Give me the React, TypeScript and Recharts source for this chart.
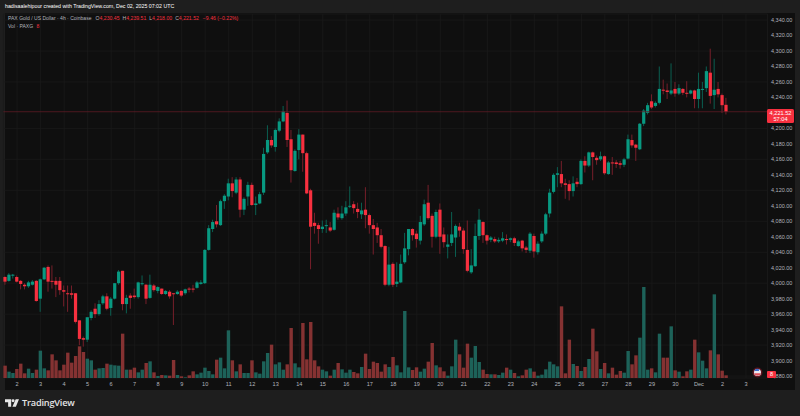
import React from 'react';
import { ComposedChart, Bar, XAxis, YAxis, CartesianGrid, ReferenceLine } from 'recharts';

const opens = [
  4008,4003,4010,4008,4003,3998,3996,3998,4003,3980,
  4005,4021,4003,4003,4003,3991,3987,3987,3987,3952,
  3929,3927,3955,3967,3960,3974,3983,3968,3980,4000,
  4016,3973,3984,3984,3982,3999,3998,3981,3997,3990,
  3993,3986,3989,3987,3986,3990,3987,3993,3993,3994,
  3999,4000,4043,4070,4080,4075,4106,4112,4129,4117,
  4134,4095,4112,4127,4101,4103,4117,4169,4185,4176,
  4197,4209,4220,4186,4145,4172,4192,4168,4120,4078,
  4075,4070,4074,4072,4069,4090,4084,4090,4099,4102,
  4096,4089,4095,4088,4075,4072,4062,4048,3998,4025,
  3999,4001,4027,4044,4070,4064,4055,4076,4104,4087,
  4060,4095,4063,4047,4052,4059,4073,4068,4043,4014,
  4022,4061,4079,4062,4056,4057,4054,4055,4057,4056,
  4058,4048,4055,4046,4042,4061,4040,4054,4064,4090,
  4118,4140,4141,4129,4128,4119,4131,4128,4158,4152,
  4169,4162,4160,4164,4141,4156,4156,4155,4153,4161,
  4185,4179,4173,4206,4220,4235,4229,4233,4250,4249,
  4245,4251,4245,4251,4246,4245,4249,4238,4250,4252,
  4272,4243,4251,4243,4230.45,
];
const closes = [
  4002,4011,4011,4002,3999,3996,4001,4002,3977,4005,
  4020,4002,4002,3998,3991,3989,3986,3985,3950,3928,
  3927,3956,3963,3960,3973,3983,3967,3980,4000,4015,
  3973,3981,3981,3982,4001,4000,3980,3998,3991,3995,
  3986,3990,3983,3986,3989,3984,3992,3992,3992,4001,
  4001,4043,4071,4079,4076,4106,4113,4129,4119,4134,
  4095,4109,4127,4101,4103,4115,4167,4185,4178,4198,
  4209,4222,4185,4146,4171,4192,4168,4116,4073,4074,
  4070,4073,4075,4068,4091,4085,4090,4098,4100,4097,
  4092,4094,4088,4075,4070,4062,4047,3998,4024,3998,
  4002,4025,4045,4070,4062,4057,4079,4102,4084,4060,
  4092,4060,4053,4050,4063,4074,4068,4044,4016,4023,
  4061,4082,4062,4055,4059,4054,4056,4058,4056,4058,
  4052,4054,4045,4043,4064,4041,4051,4064,4089,4117,
  4140,4142,4129,4127,4119,4129,4128,4158,4152,4169,
  4163,4159,4164,4142,4156,4155,4154,4153,4160,4186,
  4178,4175,4206,4223,4230,4227,4233,4251,4249,4247,
  4249,4245,4252,4246,4245,4249,4238,4251,4251,4274,
  4242,4250,4244,4230,4221.52,
];
const highs = [
  4009,4013,4012,4010,4004,4000,4003,4004,4004,4006,
  4021,4023,4023,4008,4008,3997,3997,3997,3987,3952,
  3931,3956,3965,3974,3978,3985,3987,3982,4000,4017,
  4016,3985,3987,3993,4002,4010,3999,4011,3999,3996,
  3993,3991,3991,3987,3991,3991,3993,3995,3998,4003,
  4004,4044,4075,4082,4101,4108,4115,4135,4137,4137,
  4137,4111,4131,4130,4112,4118,4175,4204,4190,4200,
  4213,4229,4236,4198,4173,4199,4192,4170,4122,4091,
  4078,4081,4082,4079,4095,4098,4100,4106,4125,4106,
  4104,4104,4124,4090,4083,4078,4070,4049,4047,4027,
  4027,4037,4065,4070,4071,4068,4087,4108,4127,4090,
  4095,4103,4072,4063,4092,4076,4078,4071,4081,4044,
  4077,4096,4080,4063,4061,4060,4059,4066,4063,4059,
  4060,4056,4056,4048,4066,4064,4054,4067,4091,4122,
  4142,4150,4158,4135,4133,4138,4136,4160,4164,4170,
  4170,4165,4170,4165,4158,4163,4159,4158,4162,4192,
  4192,4180,4207,4225,4233,4244,4235,4280,4263,4258,
  4284,4260,4257,4252,4261,4250,4250,4272,4260,4280,
  4303,4290,4260,4245,4239.51,
];
const lows = [
  3998,4002,4006,4001,3992,3992,3994,3997,3976,3963,
  4004,3989,3993,3982,3985,3970,3963,3980,3948,3920,
  3918,3924,3952,3955,3958,3972,3965,3958,3979,3998,
  3965,3961,3967,3980,3980,3997,3973,3980,3989,3987,
  3985,3985,3980,3946,3985,3982,3985,3988,3988,3993,
  3998,3999,4042,4066,4072,4074,4096,4107,4111,4115,
  4085,4088,4100,4100,4088,4102,4114,4167,4175,4170,
  4195,4208,4176,4130,4144,4160,4144,4115,4018,4064,
  4051,4065,4065,4066,4068,4082,4082,4087,4097,4090,
  4084,4083,4071,4064,4037,4052,4045,3996,3996,3995,
  3995,4000,4025,4036,4055,4046,4050,4074,4082,4046,
  4058,4038,4046,4032,4048,4034,4060,4038,4014,4012,
  4021,4056,4052,4050,4053,4052,4052,4053,4050,4053,
  4048,4047,4041,4039,4039,4033,4037,4052,4062,4085,
  4116,4124,4124,4109,4107,4112,4124,4127,4143,4150,
  4133,4153,4158,4140,4140,4140,4149,4148,4150,4160,
  4175,4158,4172,4203,4218,4225,4227,4231,4244,4238,
  4243,4241,4243,4243,4240,4244,4226,4226,4226,4247,
  4232,4225,4240,4220,4218,
];
const volumes = [
  37,19,15,27,43,14,28,15,25,82,
  29,23,71,53,23,40,76,46,66,95,
  78,58,53,25,29,30,43,40,38,37,
  133,25,25,31,17,25,45,50,17,6,
  9,8,7,54,9,5,2,8,20,11,
  16,31,21,11,55,61,29,143,53,20,
  41,15,15,53,17,13,50,75,100,41,
  47,25,41,150,44,32,165,56,168,53,
  35,25,20,7,25,45,26,16,25,18,
  14,33,73,27,49,45,19,41,33,63,
  38,17,201,32,24,32,19,28,49,105,
  38,32,20,7,35,115,71,31,103,61,
  96,48,25,12,11,11,9,16,31,25,
  15,5,8,25,29,19,7,10,26,49,
  41,35,215,14,115,42,36,21,33,57,
  148,80,27,45,14,31,10,21,16,81,
  41,68,121,273,25,29,17,133,61,61,
  155,23,19,5,20,25,115,77,52,29,
  83,251,71,22,8,
];
const priceTicks = [
  3880,3900,3920,3940,3960,3980,4000,4020,4040,4060,4080,4100,4120,
  4140,4160,4180,4200,4240,4260,4280,4300,4320,4340,
];
const dayLabels = [
  '2','3','4','5','6','7','8','9','10','11','12','13','14','15','16','17',
  '18','19','20','21','22','23','24','25','26','27','28','29','30','Dec','2','3',
];
const lastPrice = 4221.52;
const emptySlots = 10;

const GREEN = '#089981';
const RED = '#f7303f';
const FONT = '"Liberation Sans", Arial, sans-serif';

// 6 four-hour candles per day, the first label sits on the 4th candle
const dayTicks = dayLabels.map((_, i) => 3 + i * 6);
const rows = [
  ...opens.map((open, i) => ({
    idx: i,
    up: closes[i] >= open,
    wick: [lows[i], highs[i]],
    body: [Math.min(open, closes[i]), Math.max(open, closes[i])],
    vol: volumes[i],
  })),
  ...Array.from({ length: emptySlots }, (_, i) => ({ idx: opens.length + i })),
];

const formatPrice = (v: number) =>
  v.toLocaleString('en-US', { minimumFractionDigits: 2, maximumFractionDigits: 2 });

const WickShape = ({ x, y, width, height, payload }: any) => (
  <rect x={x} y={y} width={width} height={Math.max(height, 0)} fill={payload.up ? '#0b5f51' : '#761f2a'} />
);
const BodyShape = ({ x, y, width, height, payload }: any) => (
  <rect x={x} y={y} width={width} height={Math.max(height, 1)} fill={payload.up ? GREEN : RED} />
);
const VolumeShape = ({ x, y, width, height, payload }: any) => (
  <rect x={x} y={y} width={width} height={Math.max(height, 0)} fill={payload.up ? '#1d6259' : '#853232'} />
);

const Logo = () => (
  <svg width={14} height={8} viewBox="0 0 17 9" style={{ position: 'absolute', left: 5, top: 399 }}>
    <path d="M0 0H7.5V9H3.8V3.6H0Z M13 0H17L13.2 9H9Z" fill="#e8e8e8" />
    <circle cx={9.8} cy={1.8} r={1.8} fill="#e8e8e8" />
  </svg>
);

const Flag = () => (
  <svg width={11} height={11} viewBox="0 0 11 11" style={{ position: 'absolute', left: 751.5, top: 366.5 }}>
    <circle cx={5.5} cy={5.5} r={5} fill="#5c1620" />
    <circle cx={5.5} cy={5.5} r={3.5} fill="#e8e8f0" />
    <path d="M2.1 6.2H8.9A3.5 3.5 0 0 1 2.1 6.2Z" fill="#e0505a" />
    <path d="M2.3 4A3.5 3.5 0 0 1 7 2.3V4Z" fill="#3b6fd0" />
  </svg>
);

const legendValue = { marginLeft: 3 };

export default function App() {
  return (
    <div style={{ position: 'absolute', left: 0, top: 0, width: 800, height: 416, background: '#1e1e1e', overflow: 'hidden', fontFamily: FONT }}>
      <style>{'body{margin:0}'}</style>
      <div style={{ position: 'absolute', left: 4.5, top: 13, width: 790.5, height: 377, background: '#0f0f0f' }} />
      <div style={{ position: 'absolute', left: 5, top: 3, fontSize: 5.25, lineHeight: '7px', color: '#ffffff', whiteSpace: 'nowrap' }}>
        hadisaalehipour created with TradingView.com, Dec 02, 2025 07:02 UTC
      </div>

      <ComposedChart
        width={800}
        height={416}
        data={rows}
        margin={{ top: 14, right: 0, left: 3.4, bottom: 26 }}
        style={{ position: 'absolute', left: 0, top: 0 }}
      >
        <CartesianGrid xAxisId="vol" yAxisId="price" stroke="#1b1b1b" strokeWidth={0.8} />
        <XAxis
          xAxisId="vol"
          dataKey="idx"
          height={12}
          ticks={dayTicks}
          interval={0}
          tickFormatter={(v: number) => dayLabels[(v - 3) / 6]}
          tick={{ fontSize: 5.6, fill: '#b2b5be', fontFamily: FONT }}
          tickLine={false}
          axisLine={false}
          tickSize={0}
          tickMargin={4}
        />
        <XAxis xAxisId="wick" dataKey="idx" hide height={0} />
        <XAxis xAxisId="body" dataKey="idx" hide height={0} />
        <YAxis
          yAxisId="price"
          orientation="right"
          width={32.5}
          domain={[3877.5, 4347.8]}
          ticks={priceTicks}
          allowDataOverflow
          tickFormatter={formatPrice}
          tick={{ fontSize: 5.5, fill: '#b2b5be', fontFamily: FONT }}
          tickLine={false}
          axisLine={false}
          tickSize={0}
          tickMargin={3.5}
        />
        <YAxis yAxisId="volume" hide domain={[0, 1092]} />
        <Bar xAxisId="vol" yAxisId="volume" dataKey="vol" barSize={3.4} shape={VolumeShape} isAnimationActive={false} />
        <ReferenceLine xAxisId="vol" yAxisId="price" y={lastPrice} stroke="#5e1c25" strokeWidth={0.8} />
        <Bar xAxisId="wick" yAxisId="price" dataKey="wick" barSize={1} shape={WickShape} isAnimationActive={false} />
        <Bar xAxisId="body" yAxisId="price" dataKey="body" barSize={3.2} shape={BodyShape} isAnimationActive={false} />
      </ComposedChart>

      <div style={{ position: 'absolute', left: 8, top: 15, fontSize: 5.15, lineHeight: '7px', color: '#b2b5be', whiteSpace: 'nowrap' }}>
        <span style={{ fontSize: 5.05 }}>PAX Gold / US Dollar · 4h · Coinbase</span>
        <span style={{ marginLeft: 4 }}>O<span style={{ color: RED }}>4,230.45</span></span>
        <span style={legendValue}>H<span style={{ color: RED }}>4,239.51</span></span>
        <span style={legendValue}>L<span style={{ color: RED }}>4,218.00</span></span>
        <span style={legendValue}>C<span style={{ color: RED }}>4,221.52</span></span>
        <span style={{ marginLeft: 4, color: RED }}>−9.46 (−0.22%)</span>
      </div>
      <div style={{ position: 'absolute', left: 8, top: 22.5, fontSize: 5.05, lineHeight: '7px', color: '#b2b5be', whiteSpace: 'nowrap' }}>
        Vol · PAXG <span style={{ color: RED, marginLeft: 2 }}>8</span>
      </div>

      <div style={{ position: 'absolute', left: 767, top: 109, width: 27, height: 13.5, borderRadius: 1.5, background: RED, color: '#fff', fontSize: 5.6, lineHeight: '6.5px', textAlign: 'center', paddingTop: 0.5 }}>
        {formatPrice(lastPrice)}
        <br />
        57:04
      </div>
      <div style={{ position: 'absolute', left: 767, top: 371, width: 9, height: 7, borderRadius: 1, background: RED, color: '#fff', fontSize: 5.5, lineHeight: '7px', textAlign: 'center' }}>
        8
      </div>
      <Flag />

      <Logo />
      <div style={{ position: 'absolute', left: 22, top: 396.5, fontSize: 9.2, lineHeight: '12px', fontWeight: 600, color: '#e4e4e4', whiteSpace: 'nowrap', fontFamily: '"Open Sans", sans-serif', letterSpacing: -0.2 }}>
        TradingView
      </div>
    </div>
  );
}
